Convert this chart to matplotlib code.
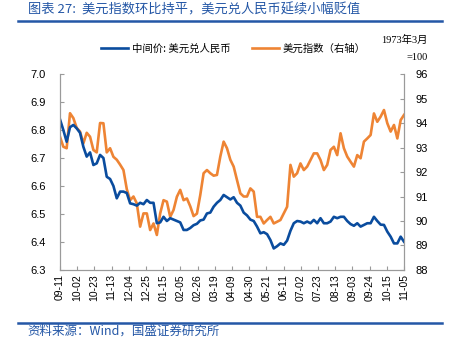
import matplotlib
matplotlib.use("Agg")
import matplotlib.pyplot as plt
import matplotlib.dates as mdates
import numpy as np
import pandas as pd

plt.rcParams['font.family'] = ['Noto Sans CJK SC', 'DejaVu Sans']

# sample dates (every ~4 days, 2020-09-11 .. 2021-11-05)
start, end = "2020-09-11", "2021-11-05"

# 中间价: 美元兑人民币 (left axis)
cny = [6.838, 6.80, 6.758, 6.81, 6.818, 6.806, 6.79, 6.74, 6.705, 6.72,
       6.675, 6.681, 6.711, 6.70, 6.633, 6.625, 6.60, 6.556, 6.58, 6.58,
       6.575, 6.538, 6.535, 6.53, 6.54, 6.535, 6.55, 6.54,
       6.54, 6.467, 6.47, 6.49, 6.475, 6.485, 6.48, 6.475, 6.47, 6.443,
       6.443, 6.45, 6.46, 6.465, 6.477, 6.48, 6.502, 6.505, 6.526, 6.54,
       6.55, 6.568, 6.56, 6.552, 6.56, 6.54, 6.53,
       6.505, 6.495, 6.48, 6.475, 6.455, 6.431, 6.435, 6.428, 6.407, 6.377,
       6.385, 6.395, 6.39, 6.405, 6.44, 6.467, 6.475, 6.473, 6.467, 6.473,
       6.467, 6.479, 6.467, 6.485, 6.467, 6.467, 6.473,
       6.49, 6.485, 6.49, 6.49, 6.475, 6.464, 6.458, 6.467, 6.455, 6.461,
       6.467, 6.467, 6.49, 6.475, 6.462, 6.461, 6.437, 6.419, 6.395, 6.395,
       6.419, 6.401]

# 美元指数 (right axis)
dxy = [93.44, 93.03, 92.97, 94.4, 94.2, 93.8, 93.65, 93.17, 93.6, 93.44,
       92.9, 92.8, 94.0, 93.99, 92.8, 92.97, 92.62, 92.5, 92.3, 92.08,
       91.3, 90.85, 91.0, 90.72, 89.77, 90.31, 90.31, 89.63,
       89.9, 89.43, 90.31, 90.85, 90.79, 90.17, 90.45, 90.99, 91.27, 90.85,
       90.92, 90.6, 90.2, 90.3, 91.06, 91.95, 92.08, 91.95, 91.85, 91.88,
       92.63, 93.24, 92.97, 92.5, 92.22, 91.67, 91.13,
       91.0, 91.0, 91.33, 91.2, 90.17, 90.17, 89.9, 90.04, 90.17, 89.9,
       89.97, 90.04, 90.31, 90.58, 92.29, 91.81, 91.95, 92.35, 92.08, 92.22,
       92.49, 92.76, 92.76, 92.49, 92.08, 92.29, 92.9,
       93.03, 92.69, 93.58, 92.97, 92.63, 92.42, 92.22, 92.69, 92.56, 93.24,
       93.37, 93.51, 94.39, 94.05, 94.26, 94.53, 93.99, 93.65, 93.92, 93.37,
       94.12, 94.33]

dates = pd.date_range(start, end, periods=len(cny))
ticks = pd.date_range(start, end, freq="21D")

blue = "#0a4c9e"
orange = "#ee8434"
grey = "#9a9a9a"
title_blue = "#2457a6"

fig = plt.figure(figsize=(4.49, 3.57), dpi=100)
ax = fig.add_axes([0.1336, 0.2437, 0.7662, 0.549])
ax2 = ax.twinx()

l1, = ax.plot(dates, cny, color=blue, lw=1.9, label="中间价: 美元兑人民币")
l2, = ax2.plot(dates, dxy, color=orange, lw=1.9, label="美元指数（右轴）")
ax.set_zorder(ax2.get_zorder() + 1)
ax.patch.set_visible(False)

ax.set_ylim(6.3, 7.0)
ax.set_yticks(np.arange(6.3, 7.01, 0.1))
ax.set_yticklabels([f"{v:.1f}" for v in np.arange(6.3, 7.01, 0.1)])
ax2.set_ylim(88, 96)
ax2.set_yticks(range(88, 97))
ax.set_xlim(pd.Timestamp(start), pd.Timestamp(end))
ax.set_xticks(ticks)
ax.xaxis.set_major_formatter(mdates.DateFormatter("%m-%d"))

for a in (ax, ax2):
    for s in a.spines.values():
        s.set_color(grey)
    a.spines['top'].set_visible(False)
    a.tick_params(direction="in", color=grey, length=3, labelsize=8)
    for lab in a.get_yticklabels() + a.get_xticklabels():
        lab.set_family(['Liberation Sans', 'DejaVu Sans'])
ax.tick_params(axis="x", rotation=90, labelsize=7.5, pad=3)
ax.tick_params(axis="y", pad=10)
ax2.tick_params(axis="y", pad=8)

fig.legend(handles=[l1, l2], loc="center", bbox_to_anchor=(0.52, 0.863),
           ncol=2, frameon=False, fontsize=7.5, handlelength=2.6,
           columnspacing=2.0, handletextpad=0.4)

fig.text(0.953, 0.888, "1973年3月", ha="right", va="center", fontsize=7.5,
         family=['Liberation Serif', 'Noto Sans CJK SC'])
fig.text(0.953, 0.838, "=100", ha="right", va="center", fontsize=7.5,
         family=['Liberation Serif', 'Noto Sans CJK SC'])

fig.text(0.062, 0.972, "图表 27:  美元指数环比持平，美元兑人民币延续小幅贬值",
         ha="left", va="center", fontsize=9.5, color=title_blue)
fig.text(0.062, 0.073, "资料来源：Wind，国盛证券研究所",
         ha="left", va="center", fontsize=9, color=title_blue)

fig.add_artist(plt.Line2D([0.04, 0.984], [0.941, 0.941], color=title_blue, lw=1.8))
fig.add_artist(plt.Line2D([0.04, 0.984], [0.095, 0.095], color=title_blue, lw=1.8))

fig.savefig("out.png", dpi=100)
